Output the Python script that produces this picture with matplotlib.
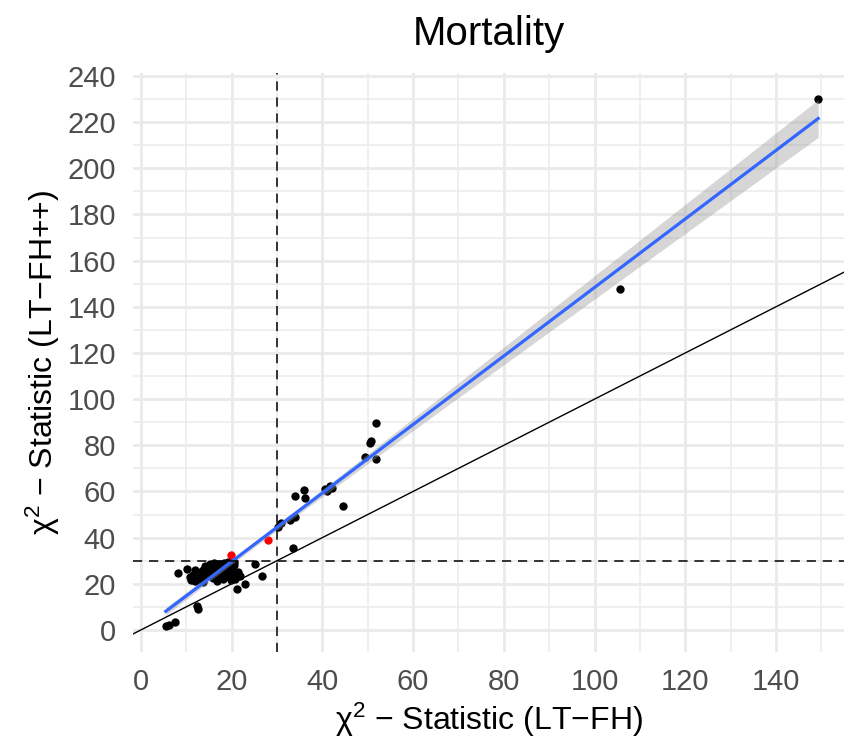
import matplotlib
matplotlib.use("Agg")
import matplotlib.pyplot as plt
import numpy as np

plt.rcParams["font.family"] = ["Liberation Sans", "DejaVu Sans"]
plt.rcParams["mathtext.fontset"] = "custom"
plt.rcParams["mathtext.rm"] = "Liberation Sans"
plt.rcParams["mathtext.it"] = "Liberation Sans:italic"

# chi-square statistics, LT-FH (x) vs LT-FH++ (y)
x_black = [149.3, 105.5,
           51.8, 50.5, 50.7, 49.5, 51.9,
           34.0, 35.9, 36.1, 41.7, 41.0, 42.2, 40.6, 44.5,
           31.0, 30.3, 32.9, 34.0, 33.6,
           8.3, 10.1, 10.9, 12.0, 13.4, 15.3, 14.5, 16.4, 17.5, 18.5, 19.3,
           18.2, 16.7, 20.4, 20.8, 13.8, 12.3, 12.5, 25.2, 26.6, 21.1, 23.0,
           5.5, 6.1, 7.5,
           11.5, 12.5, 13.0, 14.0, 14.8, 15.5, 16.0, 16.5, 17.0, 17.8, 18.0,
           18.8, 19.0, 19.5, 20.0, 20.5, 17.2, 15.8, 14.2, 21.5, 12.0, 11.0,
           13.5, 16.2, 21.8, 19.9,
           15.0, 16.0, 17.0, 18.0, 19.0, 20.0, 18.4, 17.4, 16.4, 15.4,
           19.6, 20.6, 14.6, 13.6, 18.8, 17.8, 16.8, 19.2, 20.2, 15.2]
y_black = [229.9, 147.6,
           89.5, 81.0, 81.8, 74.8, 73.9,
           57.9, 60.7, 57.0, 62.2, 60.3, 61.5, 61.0, 53.7,
           46.4, 44.5, 47.7, 49.1, 35.4,
           24.7, 26.4, 22.8, 21.4, 25.7, 28.6, 23.5, 24.3, 26.4, 27.9, 29.3,
           22.1, 21.4, 24.3, 22.1, 20.6, 10.5, 9.1, 28.6, 23.5, 17.8, 19.9,
           1.7, 2.0, 3.3,
           24.0, 23.0, 22.0, 25.0, 26.5, 24.5, 27.0, 25.5, 23.0, 24.8, 26.8,
           25.2, 23.5, 27.0, 26.0, 28.0, 28.4, 22.6, 27.6, 25.0, 26.0, 21.8,
           24.0, 29.0, 23.2, 21.6,
           26.0, 26.4, 27.2, 27.6, 28.2, 28.8, 28.9, 28.0, 27.8, 27.0,
           29.2, 29.4, 26.2, 25.8, 27.4, 26.6, 26.0, 28.4, 27.6, 25.6]
x_red = [19.8, 28.0]
y_red = [32.6, 39.1]

x_ticks = [0, 20, 40, 60, 80, 100, 120, 140]
y_ticks = [0, 20, 40, 60, 80, 100, 120, 140, 160, 180, 200, 220, 240]
threshold = 30

x_all = np.array(x_black + x_red)
y_all = np.array(y_black + y_red)

# linear fit with 95% confidence band
slope, intercept = np.polyfit(x_all, y_all, 1)
n = len(x_all)
resid = y_all - (slope * x_all + intercept)
s = np.sqrt(np.sum(resid ** 2) / (n - 2))
xs = np.linspace(x_all.min(), x_all.max(), 200)
fit = slope * xs + intercept
se = s * np.sqrt(1 / n + (xs - x_all.mean()) ** 2 / np.sum((x_all - x_all.mean()) ** 2))
band = 1.99 * se

fig = plt.figure(figsize=(8.45, 7.47), dpi=100)
ax = fig.add_axes([0.157, 0.1276, 0.843, 0.7751])

ax.scatter(x_black, y_black, s=36, color="black", linewidths=0, zorder=3)
ax.scatter(x_red, y_red, s=36, color="#FF0000", linewidths=0, zorder=3)
ax.fill_between(xs, fit - band, fit + band, color="#999999", alpha=0.4,
                linewidth=0, zorder=4)
ax.plot(xs, fit, color="#3366FF", linewidth=2.3, zorder=5)
ax.axline((0, 0), slope=1, color="black", linewidth=1.0, zorder=6)
ax.axhline(threshold, color="black", linewidth=1.1, linestyle=(0, (6, 4.5)), zorder=6)
ax.axvline(threshold, color="black", linewidth=1.1, linestyle=(0, (6, 4.5)), zorder=6)

ax.set_xlim(-1.8, 155.2)
ax.set_ylim(-9.4, 241.4)
ax.set_xticks(x_ticks)
ax.set_yticks(y_ticks)
ax.set_xticks(np.arange(10, 160, 20), minor=True)
ax.set_yticks(np.arange(10, 250, 20), minor=True)
ax.grid(which="major", color="#EBEBEB", linewidth=2.1, zorder=0)
ax.grid(which="minor", color="#EBEBEB", linewidth=1.1, zorder=0)
ax.set_axisbelow(True)
for sp in ax.spines.values():
    sp.set_visible(False)
ax.tick_params(which="both", length=0, labelsize=21, colors="#4D4D4D")
ax.tick_params(axis="y", pad=12)
ax.tick_params(axis="x", pad=12)

ax.set_title("Mortality", fontsize=29, pad=20)
ax.set_xlabel("χ$^{2}$ − Statistic (LT−FH)", fontsize=23, labelpad=3)
ax.set_ylabel("χ$^{2}$ − Statistic (LT−FH++)", fontsize=23, labelpad=4)

fig.savefig("out.png", dpi=100)
